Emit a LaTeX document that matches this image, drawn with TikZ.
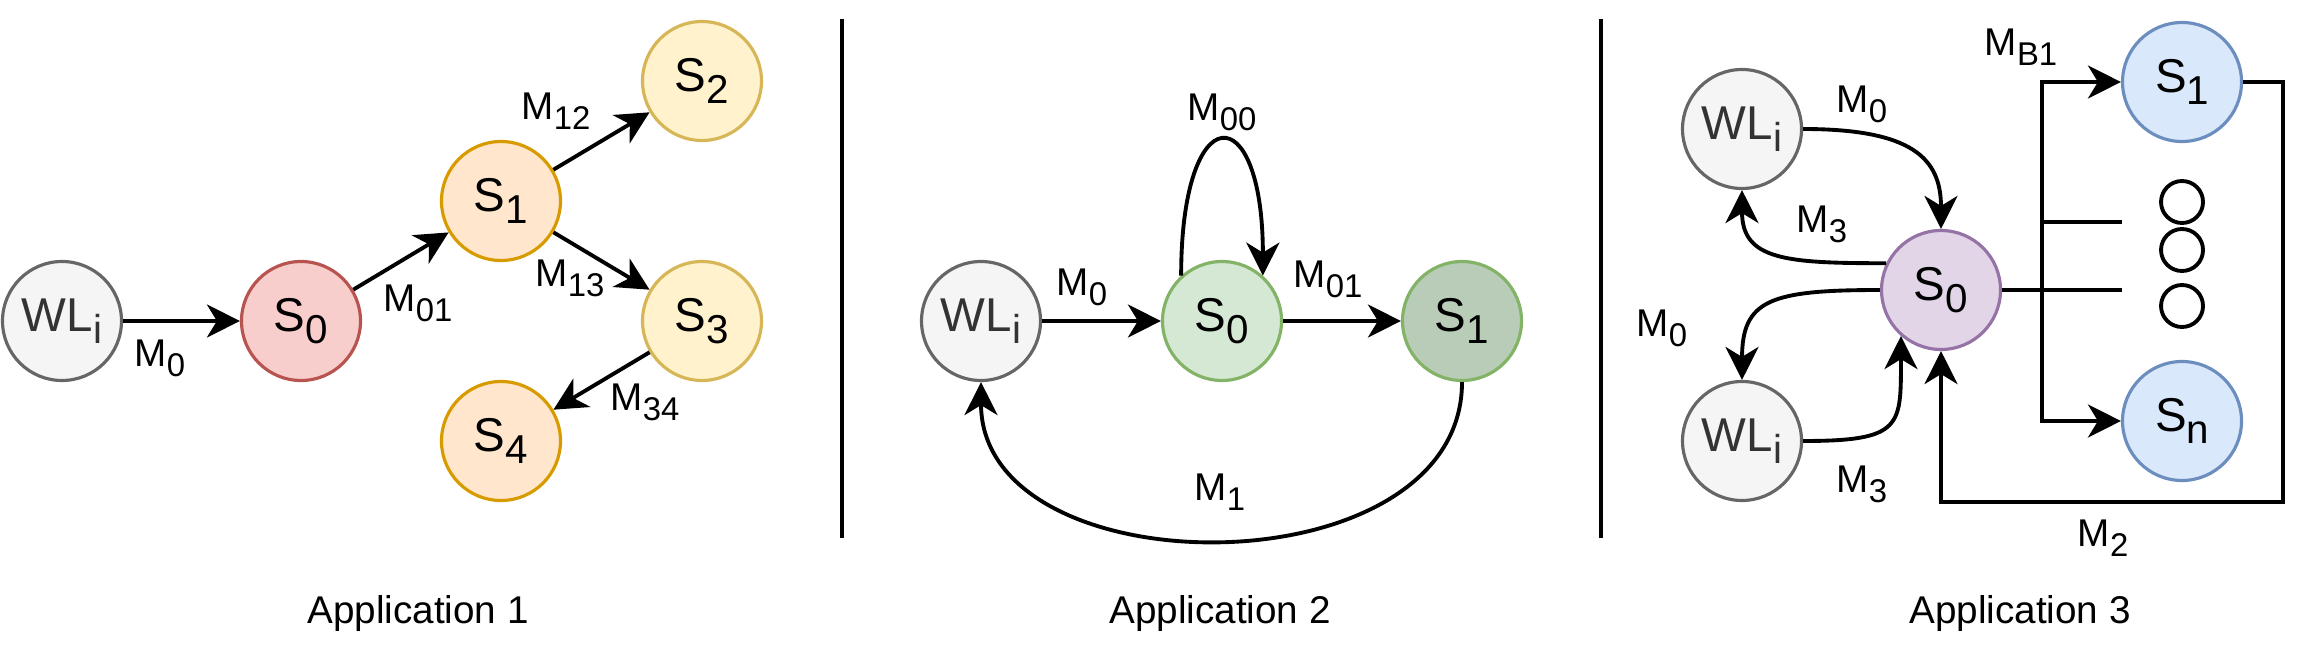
\documentclass[tikz,border=0pt]{standalone}
\usepackage{fontspec}
\setmainfont{Liberation Sans}
\usepackage{graphicx}
\usetikzlibrary{arrows.meta}
\definecolor{wlfill}{HTML}{F5F5F5}
\definecolor{wldraw}{HTML}{666666}
\definecolor{wltext}{HTML}{333333}
\definecolor{redfill}{HTML}{F8CECC}
\definecolor{reddraw}{HTML}{B85450}
\definecolor{orangefill}{HTML}{FFE6CC}
\definecolor{orangedraw}{HTML}{D79B00}
\definecolor{yellowfill}{HTML}{FFF2CC}
\definecolor{yellowdraw}{HTML}{D6B656}
\definecolor{greenfill}{HTML}{D5E8D4}
\definecolor{darkgreenfill}{HTML}{B9CCB8}
\definecolor{greendraw}{HTML}{82B366}
\definecolor{purplefill}{HTML}{E1D5E7}
\definecolor{purpledraw}{HTML}{9673A6}
\definecolor{bluefill}{HTML}{DAE8FC}
\definecolor{bluedraw}{HTML}{6C8EBF}
\newcommand{\lowidx}[1]{\raisebox{-0.26em}{\scalebox{0.85}{#1}}}
\begin{document}
\begin{tikzpicture}[
  state/.style={circle, draw, line width=0.9pt, minimum size=1.19cm, inner sep=0pt,
    font=\fontsize{13.5}{16}\selectfont},
  wl/.style={state, fill=wlfill, draw=wldraw, text=wltext},
  msg/.style={inner sep=0pt, font=\fontsize{11}{13}\selectfont},
  link/.style={-{Stealth[length=3.3mm,width=3.3mm,inset=1mm]}, line width=1.1pt},
  wire/.style={line width=1.1pt}
]
\useasboundingbox (0,0) rectangle (23.16,6.52);
% application 1
\node[wl] (wl1) at (0.62,3.31) {WL\lowidx{i}};
\node[state, fill=redfill, draw=reddraw] (s0a) at (3.01,3.31) {S\lowidx{0}};
\node[state, fill=orangefill, draw=orangedraw] (s1a) at (5.01,4.51) {S\lowidx{1}};
\node[state, fill=yellowfill, draw=yellowdraw] (s2a) at (7.02,5.71) {S\lowidx{2}};
\node[state, fill=yellowfill, draw=yellowdraw] (s3a) at (7.02,3.31) {S\lowidx{3}};
\node[state, fill=orangefill, draw=orangedraw] (s4a) at (5.01,2.11) {S\lowidx{4}};
% lines
\draw[link] (wl1) -- (s0a);
\draw[link] (s0a) -- (s1a);
\draw[link] (s1a) -- (s2a);
\draw[link] (s1a) -- (s3a);
\draw[link] (s3a) -- (s4a);
% labels
\node[msg] (m0a) at (1.60,2.94) {M\lowidx{0}};
\node[msg] (m01a) at (4.18,3.49) {M\lowidx{01}};
\node[msg] (m12a) at (5.56,5.41) {M\lowidx{12}};
\node[msg] (m13a) at (5.70,3.74) {M\lowidx{13}};
\node[msg] (m34a) at (6.45,2.50) {M\lowidx{34}};
\node[msg] (app1) at (4.18,0.39) {Application 1};

% separators
\draw[wire] (8.42,6.33) -- (8.42,1.14);
\draw[wire] (16.01,6.33) -- (16.01,1.14);

% application 2
\node[wl] (wl2) at (9.81,3.31) {WL\lowidx{i}};
\node[state, fill=greenfill, draw=greendraw] (s0b) at (12.22,3.31) {S\lowidx{0}};
\node[state, fill=darkgreenfill, draw=greendraw] (s1b) at (14.62,3.31) {S\lowidx{1}};
% lines
\draw[link] (wl2) -- (s0b);
\draw[link] (s0b) -- (s1b);
\draw[link] (s0b.132) .. controls +(0,1.8) and +(0,1.8) .. (s0b.48);
\draw[link] (s1b.south) .. controls +(0,-2.1) and +(0,-2.1) .. (wl2.south);
% labels
\node[msg] (m0b) at (10.82,3.65) {M\lowidx{0}};
\node[msg] (m01b) at (13.28,3.73) {M\lowidx{01}};
\node[msg] (m00b) at (12.22,5.40) {M\lowidx{00}};
\node[msg] (m1b) at (12.20,1.60) {M\lowidx{1}};
\node[msg] (app2) at (12.20,0.39) {Application 2};

% application 3
\node[wl] (wl3a) at (17.42,5.23) {WL\lowidx{i}};
\node[wl] (wl3b) at (17.42,2.11) {WL\lowidx{i}};
\node[state, fill=purplefill, draw=purpledraw] (s0c) at (19.41,3.62) {S\lowidx{0}};
\node[state, fill=bluefill, draw=bluedraw] (s1c) at (21.82,5.70) {S\lowidx{1}};
\node[state, fill=bluefill, draw=bluedraw] (snc) at (21.82,2.31) {S\lowidx{n}};
% dots
\draw[wire] (21.82,4.50) circle[radius=0.21];
\draw[wire] (21.82,4.02) circle[radius=0.21];
\draw[wire] (21.82,3.46) circle[radius=0.21];
% curves
\draw[link] (wl3a.east) .. controls +(1.1,0) and +(0,0.7) .. (s0c.north);
\draw[link] (s0c.154) .. controls +(-1.0,0) and +(0,-0.7) .. (wl3a.south);
\draw[link] (s0c.west) .. controls +(-1.1,0) and +(0,0.8) .. (wl3b.north);
\draw[link] (wl3b.east) .. controls +(1.0,0) and +(0,-0.9) .. (s0c.229);
% bus
\coordinate (bus) at (20.42,3.62);
\coordinate (stub1) at (21.22,4.30);
\coordinate (stub2) at (21.22,3.62);
\coordinate (back) at (22.83,1.50);
\draw[wire] (s0c.east) -- (stub2);
\draw[wire] (stub1 -| bus) -- (stub1);
\draw[link] (bus) |- (s1c.west);
\draw[link] (bus) |- (snc.west);
\draw[link] (s1c.east) -| (back) -| (s0c.south);
% labels
\node[msg] (mb1c) at (20.21,6.05) {M\lowidx{B1}};
\node[msg] (m0c) at (18.62,5.48) {M\lowidx{0}};
\node[msg] (m3c) at (18.22,4.28) {M\lowidx{3}};
\node[msg] (m0d) at (16.62,3.24) {M\lowidx{0}};
\node[msg] (m3d) at (18.62,1.68) {M\lowidx{3}};
\node[msg] (m2c) at (21.03,1.14) {M\lowidx{2}};
\node[msg] (app3) at (20.20,0.39) {Application 3};
\end{tikzpicture}
\end{document}
